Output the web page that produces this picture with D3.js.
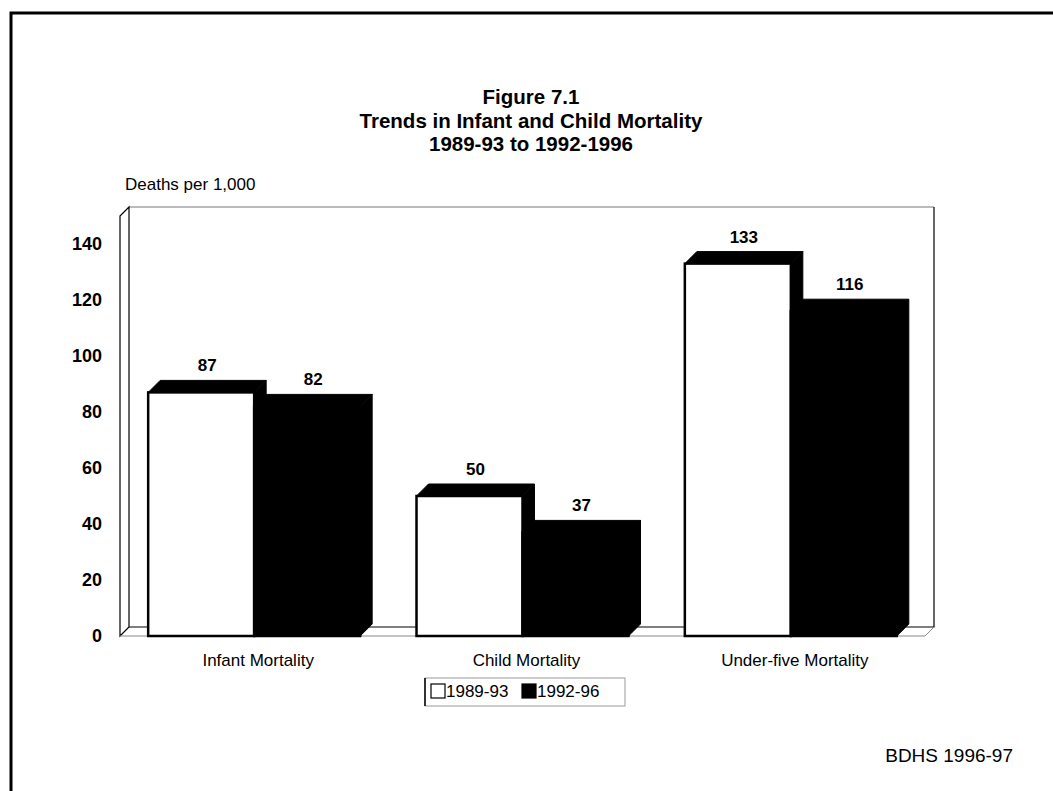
<!DOCTYPE html>
<html>
<head>
<meta charset="utf-8">
<script src="https://cdn.jsdelivr.net/npm/d3@7"></script>
<style>
  body { margin: 0; background: #fff; }
  svg { display: block; font-family: "Liberation Sans", Arial, sans-serif; }
</style>
</head>
<body>
<div id="chart"></div>
<script>
const categories = ['Infant Mortality', 'Child Mortality', 'Under-five Mortality']
const seriesNames = ['1989-93', '1992-96']
const values1989 = [87, 50, 133]
const values1992 = [82, 37, 116]
const yTicks = [0, 20, 40, 60, 80, 100, 120, 140]
const titleLines = ['Figure 7.1', 'Trends in Infant and Child Mortality', '1989-93 to 1992-1996']

const width = 1053
const height = 791
const wallDepth = 9
const barDepth = 12

const svg = d3.select('#chart')
  .append('svg')
  .attr('width', width)
  .attr('height', height)
  .attr('viewBox', `0 0 ${width} ${height}`)

// outer frame (runs off the page at right and bottom)
svg.append('path')
  .attr('d', `M11,${height} V13 H${width}`)
  .attr('fill', 'none')
  .attr('stroke', '#000')
  .attr('stroke-width', 3)

// titles
svg.append('g')
  .selectAll('text')
  .data(titleLines)
  .enter()
  .append('text')
  .attr('x', 531)
  .attr('y', (d, i) => 104 + i * 23.5)
  .attr('text-anchor', 'middle')
  .attr('font-size', 20.5)
  .attr('font-weight', 'bold')
  .text(d => d)

const x0 = d3.scaleBand()
  .domain(categories)
  .range([120, 925])
  .paddingInner(0.21)
  .paddingOuter(0.105)

const x1 = d3.scaleBand()
  .domain(seriesNames)
  .range([0, x0.bandwidth()])

const y = d3.scaleLinear()
  .domain([0, 150])
  .range([636, 216])

const [left, right] = x0.range()
const y0 = y(0)
const yTop = y(150)

// back wall, side wall and floor of the 3D box
const box = svg.append('g').attr('fill', 'none')
box.append('path')
  .attr('d', `M${left + wallDepth},${yTop - wallDepth} H${right + wallDepth}`)
  .attr('stroke', '#777').attr('stroke-width', 1)
box.append('path')
  .attr('d', `M${left},${yTop} L${left + wallDepth},${yTop - wallDepth} V${y0 - wallDepth} L${left},${y0} Z`)
  .attr('stroke', '#000').attr('stroke-width', 1.2)
box.append('path')
  .attr('d', `M${left + wallDepth},${y0 - wallDepth} H${right + wallDepth} V${yTop - wallDepth}`)
  .attr('stroke', '#000').attr('stroke-width', 1.2)
box.append('path')
  .attr('d', `M${left},${y0} H${right} L${right + wallDepth},${y0 - wallDepth}`)
  .attr('stroke', '#888').attr('stroke-width', 1)

// y axis labels
svg.append('g')
  .selectAll('text')
  .data(yTicks)
  .enter()
  .append('text')
  .attr('x', 102)
  .attr('y', d => y(d) + 6)
  .attr('text-anchor', 'end')
  .attr('font-size', 18)
  .attr('font-weight', 'bold')
  .text(d => d)

svg.append('text')
  .attr('x', 125)
  .attr('y', 190)
  .attr('font-size', 17)
  .text('Deaths per 1,000')

// bars
const groups = svg.append('g')
  .selectAll('g')
  .data(categories.map((c, i) => ({ c, vals: [values1989[i], values1992[i]] })))
  .enter()
  .append('g')
  .attr('transform', d => `translate(${x0(d.c)},0)`)

const drawBar = (g, name, v, fill) => {
  const bx = x1(name)
  const bw = x1.bandwidth()
  const by = y(v)
  // side face
  g.append('path')
    .attr('d', `M${bx + bw},${by} L${bx + bw + barDepth},${by - barDepth} V${y0 - barDepth} L${bx + bw},${y0} Z`)
    .attr('fill', '#000').attr('stroke', '#000').attr('stroke-width', 1)
  // top face
  g.append('path')
    .attr('d', `M${bx},${by} L${bx + barDepth},${by - barDepth} H${bx + bw + barDepth} L${bx + bw},${by} Z`)
    .attr('fill', '#000').attr('stroke', '#000').attr('stroke-width', 1)
  // front face
  g.append('rect')
    .attr('x', bx)
    .attr('y', by)
    .attr('width', bw)
    .attr('height', y0 - by)
    .attr('fill', fill)
    .attr('stroke', '#000')
    .attr('stroke-width', 2.5)
  g.append('text')
    .attr('x', bx + bw / 2 + barDepth / 2)
    .attr('y', by - barDepth - 9)
    .attr('text-anchor', 'middle')
    .attr('font-size', 17)
    .attr('font-weight', 'bold')
    .text(v)
}

groups.each(function (d) {
  const g = d3.select(this)
  drawBar(g, seriesNames[0], d.vals[0], '#fff')
  drawBar(g, seriesNames[1], d.vals[1], '#000')
})

// category labels
svg.append('g')
  .selectAll('text')
  .data(categories)
  .enter()
  .append('text')
  .attr('x', d => x0(d) + x0.bandwidth() / 2 + 4)
  .attr('y', 666)
  .attr('text-anchor', 'middle')
  .attr('font-size', 17)
  .text(d => d)

// legend
const legend = svg.append('g')
legend.append('rect')
  .attr('x', 425).attr('y', 678).attr('width', 200).attr('height', 28)
  .attr('fill', 'none').attr('stroke', '#999').attr('stroke-width', 1)
legend.append('line')
  .attr('x1', 425).attr('x2', 425).attr('y1', 678).attr('y2', 706)
  .attr('stroke', '#000').attr('stroke-width', 1.5)
const legendItems = legend.selectAll('g')
  .data(seriesNames)
  .enter()
  .append('g')
  .attr('transform', (d, i) => `translate(${431 + i * 91},684)`)
legendItems.append('rect')
  .attr('width', 14).attr('height', 14)
  .attr('fill', (d, i) => i === 0 ? '#fff' : '#000')
  .attr('stroke', '#000').attr('stroke-width', 1.2)
legendItems.append('text')
  .attr('x', 15)
  .attr('y', 13)
  .attr('font-size', 17)
  .text(d => d)

svg.append('text')
  .attr('x', 1013)
  .attr('y', 762)
  .attr('text-anchor', 'end')
  .attr('font-size', 19)
  .text('BDHS 1996-97')
</script>
</body>
</html>
